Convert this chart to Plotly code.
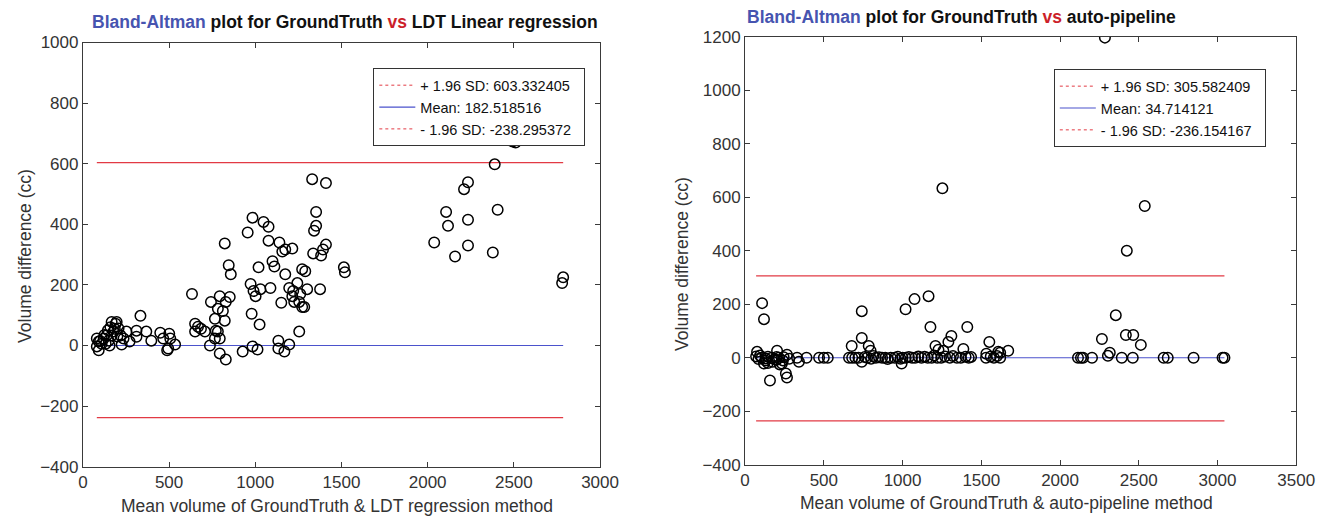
import plotly.graph_objects as go

W, H = 1329, 522
FONT = "Liberation Sans, Arial, Helvetica, sans-serif"

# ---------------- Left chart: GroundTruth vs LDT Linear regression ----------------
ldt_mean_vol = [
    81, 92, 81, 92, 121, 138, 167, 190, 196, 178, 207, 219, 236, 253, 311, 334, 311, 368, 397, 449,
    501, 507, 535, 489, 495, 132, 150, 167, 109, 155, 225, 271, 466, 100, 125, 145, 160, 185, 200,
    633, 743, 794, 852, 829, 812, 783, 766, 823, 979, 1025, 1002, 1151, 1215, 1255, 1284, 1255,
    737, 794, 829, 927, 984, 1013, 1134, 1134, 1169, 1197, 771, 766, 794, 783, 651, 668, 651, 708, 685,
    823, 846, 858, 956, 984, 1048, 1077, 973, 990, 1030, 1019, 1077, 1100, 1111, 1140, 1157, 1174,
    1215, 1088, 1174, 1197, 1220, 1244, 1272, 1290, 1261, 1226, 1272, 1301, 1336, 1376, 1341, 1353,
    1353, 1330, 1410, 1393, 1410, 1382, 1514, 1520,
    2493, 2510, 2389, 2234, 2211, 2107, 2234, 2406, 2118, 2038, 2234, 2159, 2378, 2786, 2780,
]
ldt_diff = [
    23, 13, -3, -16, 23, 33, 78, 72, 78, 46, 56, 33, 23, 46, 49, 98, 29, 46, 16, 42,
    39, 23, 3, -16, -10, 6, 16, 33, 6, 0, 3, 13, 23, 15, 35, 50, 60, 55, 30,
    170, 144, 163, 160, 144, 114, 121, 88, 82, 105, 69, 163, 141, 163, 144, 127, 46,
    0, -26, -46, -20, -3, -13, 16, -10, -20, 3, 49, 23, 23, 46, 72, 62, 46, 46, 55,
    337, 265, 235, 373, 422, 408, 392, 203, 180, 186, 258, 346, 278, 261, 340, 310, 317,
    320, 190, 235, 190, 180, 206, 252, 245, 170, 144, 127, 186, 304, 186, 379, 395,
    441, 549, 536, 317, 333, 297, 258, 242,
    673, 670, 598, 539, 516, 441, 415, 448, 395, 340, 330, 294, 307, 225, 206,
]
ldt_upper_sd = 603.332405
ldt_mean = 182.518516
ldt_lower_sd = -238.295372
ldt_mean_line_level = 0  # blue line is drawn at zero in the original picture

# ---------------- Right chart: GroundTruth vs auto-pipeline ----------------
auto_mean_vol = [
    2285, 2481, 2538, 2424, 2354, 2266, 2418, 2465, 2513, 2316, 2304, 1253,
    108, 120, 76, 203, 266, 158, 259, 266, 234, 120, 342, 741, 741, 677, 785, 797, 741, 994, 987,
    1019, 1076, 1165, 1177, 1411, 1310, 1291, 1209, 1228, 1259, 1386, 1551, 1671, 1532, 1608, 1620,
    130, 145, 175, 200, 220, 240,
    2114, 2133, 2146, 2203, 2392, 2462, 2658, 2684, 2848, 3032, 3044, 1620,
    70, 85, 95, 105, 130, 145, 170, 185, 200, 215, 245, 280, 330, 390, 470, 500, 525,
    660, 680, 700, 720, 760, 775, 800, 815, 830, 850, 870, 890, 905, 925, 950, 970,
    1000, 1020, 1040, 1060, 1080, 1100, 1120, 1140, 1160, 1185, 1200, 1220, 1245, 1270,
    1300, 1320, 1345, 1370, 1400, 1420, 1435, 1530, 1560, 1580, 1600,
]
auto_diff = [
    1196, 815, 567, 400, 159, 70, 85, 85, 48, 19, 7, 633,
    204, 144, 22, 26, 11, -85, -59, -74, -22, -22, -15, 174, 74, 44, 44, 26, -15, -22, -4,
    181, 219, 230, 115, 115, 81, 59, 44, 30, 26, 33, 59, 26, 15, 22, 19,
    -10, -20, -15, -8, -25, -10,
    0, 0, 0, 0, 0, 0, 0, 0, 0, 0, 0, 0,
    5, -5, 8, 0, -3, 4, 0, -6, 3, 0, 2, -4, 0, 0, 0, 0, 0,
    0, 0, 0, 0, 3, 0, -4, 6, 0, 2, 0, 0, -5, 0, 0, 4,
    0, 0, 3, 0, 0, 5, 0, 4, 0, 0, 8, 0, 0, 5,
    0, 6, 0, 0, 4, 0, 3, 0, 5, 0, 6,
]
auto_upper_sd = 305.582409
auto_mean = 34.714121
auto_lower_sd = -236.154167
auto_mean_line_level = 0

RED = "#e23a44"
BLUE = "#4b52cc"
AX = "#3a3a3a"

fig = go.Figure()


def add_panel(xs, ys, up, mean, lo, mean_level, xa, ya, legend_name):
    xmin, xmax = min(xs), max(xs)
    for lvl in (up, lo):
        fig.add_trace(go.Scatter(x=[xmin, xmax], y=[lvl, lvl], mode="lines",
                                 line=dict(color=RED, width=1.2), showlegend=False,
                                 xaxis=xa, yaxis=ya, hoverinfo="skip"))
    fig.add_trace(go.Scatter(x=[xmin, xmax], y=[mean_level, mean_level], mode="lines",
                             line=dict(color=BLUE, width=1.2), showlegend=False,
                             xaxis=xa, yaxis=ya, hoverinfo="skip"))
    fig.add_trace(go.Scatter(x=xs, y=ys, mode="markers",
                             marker=dict(symbol="circle-open", size=10.5,
                                         color="black", line=dict(width=1.5, color="black")),
                             showlegend=False, xaxis=xa, yaxis=ya))
    pad = "&nbsp;&nbsp;"
    fig.add_trace(go.Scatter(x=[None], y=[None], mode="lines",
                             line=dict(color=RED, width=1, dash="dot"),
                             name=f"+ 1.96 SD: {up:.6f}{pad}", legend=legend_name, xaxis=xa, yaxis=ya))
    fig.add_trace(go.Scatter(x=[None], y=[None], mode="lines",
                             line=dict(color=BLUE, width=1.2),
                             name=f"Mean: {mean:.6f}", legend=legend_name, xaxis=xa, yaxis=ya))
    fig.add_trace(go.Scatter(x=[None], y=[None], mode="lines",
                             line=dict(color=RED, width=1, dash="dot"),
                             name=f"- 1.96 SD: {lo:.6f}{pad}", legend=legend_name, xaxis=xa, yaxis=ya))


add_panel(ldt_mean_vol, ldt_diff, ldt_upper_sd, ldt_mean, ldt_lower_sd, ldt_mean_line_level,
          "x", "y", "legend")
add_panel(auto_mean_vol, auto_diff, auto_upper_sd, auto_mean, auto_lower_sd, auto_mean_line_level,
          "x2", "y2", "legend2")


def px(v):
    return v / W


def py(v):
    return 1 - v / H


def axis(domain, rng, dtick, anchor):
    return dict(domain=domain, range=rng, dtick=dtick, tick0=0, anchor=anchor,
                showgrid=False, zeroline=False, showline=True, linecolor=AX, linewidth=1,
                mirror="ticks", ticks="inside", ticklen=5, tickcolor=AX,
                tickfont=dict(family=FONT, size=17, color="#333333"))


L = dict(x0=79.3, x1=606, y0=34.8, y1=475)
R = dict(x0=753.7, x1=1315, y0=28.6, y1=473)

fig.update_layout(
    width=W, height=H, margin=dict(l=0, r=0, t=0, b=0),
    paper_bgcolor="white", plot_bgcolor="white",
    xaxis=axis([px(L["x0"]), px(L["x1"])], [0, 3000], 500, "y"),
    yaxis=axis([py(L["y1"]), py(L["y0"])], [-400, 1000], 200, "x"),
    xaxis2=axis([px(R["x0"]), px(R["x1"])], [0, 3500], 500, "y2"),
    yaxis2=axis([py(R["y1"]), py(R["y0"])], [-400, 1200], 200, "x2"),
    legend=dict(x=px(591), xanchor="right", y=py(61.5), yanchor="top",
                bgcolor="white", bordercolor="#333333", borderwidth=1, itemwidth=36,
                font=dict(family=FONT, size=14.5, color="#111111"), tracegroupgap=0),
    legend2=dict(x=px(1284), xanchor="right", y=py(62.5), yanchor="top",
                 bgcolor="white", bordercolor="#333333", borderwidth=1, itemwidth=36,
                 font=dict(family=FONT, size=14.5, color="#111111"), tracegroupgap=0),
    showlegend=True,
)

TB = "#4654b0"
TR = "#cc1f2a"
titles = [
    (346, 13.5, f"<b><span style='color:{TB}'>Bland-Altman</span> plot for GroundTruth "
                f"<span style='color:{TR}'>vs</span> LDT Linear regression</b>"),
    (974, 8, f"<b><span style='color:{TB}'>Bland-Altman</span> plot for GroundTruth "
             f"<span style='color:{TR}'>vs</span> auto-pipeline</b>"),
]
for x, y, t in titles:
    fig.add_annotation(x=px(x), y=py(y), xref="paper", yref="paper", text=t,
                       showarrow=False, xanchor="center", yanchor="middle",
                       font=dict(family=FONT, size=17.5, color="#111111"))

axis_titles = [
    (338, 516, 0, "Mean volume of GroundTruth & LDT regression method"),
    (1020, 513, 0, "Mean volume of GroundTruth & auto-pipeline method"),
    (19.6, 256, -90, "Volume difference (cc)"),
    (690, 265, -90, "Volume difference (cc)"),
]
for x, y, ang, t in axis_titles:
    fig.add_annotation(x=px(x), y=py(y), xref="paper", yref="paper", text=t,
                       showarrow=False, xanchor="center", yanchor="middle", textangle=ang,
                       font=dict(family=FONT, size=17.5, color="#333333"))

fig.write_html("out.html")
